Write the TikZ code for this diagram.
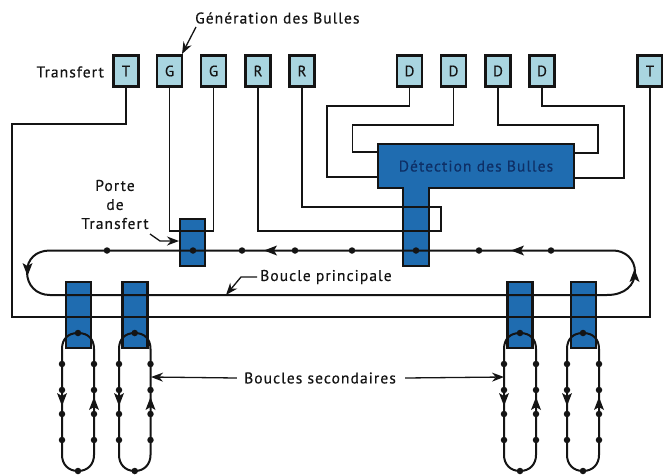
\documentclass[tikz,border=0pt]{standalone}
\usepackage{fontspec}
\setmainfont{PT Sans}
\newfontfamily\spaced[LetterSpace=7,FakeBold=0.4]{PT Sans}
\usetikzlibrary{arrows.meta}
\definecolor{lightb}{HTML}{A9D5E0}
\definecolor{blueb}{HTML}{1F6CB0}
\definecolor{ink}{HTML}{141414}
\definecolor{navy}{HTML}{0E2F66}
\tikzset{
 wire/.style={draw=ink,line width=1.7pt,line join=miter},
 thickw/.style={draw=ink,line width=2pt},
 lead/.style={draw=ink,line width=1.3pt,-{Stealth[length=12pt,width=9pt]}},
 pad/.style={draw=ink,line width=2.6pt,fill=lightb,minimum width=25pt,minimum height=31pt,inner sep=0pt,font=\spaced\fontsize{15}{15}\selectfont,text=ink},
 gate/.style={draw=ink,line width=2.4pt,fill=blueb,inner sep=0pt},
 lab/.style={font=\spaced\fontsize{15.5}{19}\selectfont,text=ink,inner sep=0pt,align=center},
 dot/.style={circle,fill=ink,inner sep=0pt,minimum size=6.5pt},
}
\newcommand{\tipat}[3]{\fill[ink,shift={(#1,#2)},rotate=#3] (6,0) -- (-7,-5) -- (-4,0) -- (-7,5) -- cycle;}
\begin{document}
\begin{tikzpicture}[x=1pt,y=-1pt]
\useasboundingbox[fill=white] (0,0) rectangle (663,474);
% pads
\node[pad] (t1) at (126,71) {T};
\node[pad] (g1) at (169.5,71) {G};
\node[pad] (g2) at (213.5,71) {G};
\node[pad] (r1) at (258,71) {R};
\node[pad] (r2) at (302,71) {R};
\node[pad] (d1) at (409.5,71) {D};
\node[pad] (d2) at (453.5,71) {D};
\node[pad] (d3) at (498,71) {D};
\node[pad] (d4) at (542,71) {D};
\node[pad] (t2) at (650,71) {T};
% blue gates
\node[gate,minimum width=25pt,minimum height=47pt] (pt) at (192.5,242.5) {};
\node[gate,minimum width=25pt,minimum height=66pt] (s1) at (78.5,315) {};
\node[gate,minimum width=25pt,minimum height=66pt] (s2) at (135,315) {};
\node[gate,minimum width=25pt,minimum height=66pt] (s3) at (520,315) {};
\node[gate,minimum width=25pt,minimum height=66pt] (s4) at (583.5,315) {};
\path[gate,line join=miter] (378,144) -- (574,144) -- (574,188) -- (429,188) -- (429,266) -- (403,266) -- (403,188) -- (378,188) -- cycle;
\node[inner sep=0pt,font=\spaced\fontsize{15.5}{17}\selectfont,text=navy] (det) at (476,166) {Détection des Bulles};
% coordinates on the frames
\coordinate (dl1) at (378,177); \coordinate (dl2) at (378,152);
\coordinate (dr1) at (574,178); \coordinate (dr2) at (574,153);
\coordinate (gtip) at (182,54);
\coordinate (ptip) at (179,241);
\coordinate (btip) at (226,295);
\coordinate (sl) at (151,377);
\coordinate (sr) at (504,377);
% connectors
\draw[wire] (t1.south) |- (12,124) |- (650,317) -- (t2.south);
\draw[wire] (g1.south) |- (213.5,231) -- (g2.south);
\draw[wire] (r1.south) |- (441,231) |- (302,207) -- (r2.south);
\draw[wire] (d1.south) |- (327,106) |- (dl1);
\draw[wire] (d2.south) |- (352.5,125) |- (dl2);
\draw[wire] (d3.south) |- (598,125) |- (dr2);
\draw[wire] (d4.south) |- (624,106) |- (dr1);
% main loop
\draw[thickw] (50,295) -- (607,295) .. controls (625,295) and (635,285) .. (635,272) .. controls (635,259) and (625,250.5) .. (613,250.5) -- (50,250.5) .. controls (36,250.5) and (27,259) .. (27,272) .. controls (27,285) and (36,295) .. (50,295);
\tipat{634.5}{275}{90}
\tipat{27.5}{270}{-90}
\tipat{270}{250.5}{180}
\tipat{517}{250.5}{180}
\foreach \i/\x in {1/107,2/193,3/242,4/295,5/352,6/416,7/479,8/551} \node[dot] (m\i) at (\x,250.5) {};
% secondary loops
\foreach \n/\l/\r in {a/62/94,b/119/150.5,c/504/536,d/567/599}{
  \draw[thickw] (\l,455) .. controls (\l,464) and ({\l+6},471) .. ({(\l+\r)/2},471) .. controls ({\r-6},471) and (\r,464) .. (\r,455) -- (\r,349) .. controls (\r,339) and ({\r-6},333) .. ({(\l+\r)/2},333) .. controls ({\l+6},333) and (\l,339) .. (\l,349) -- cycle;
  \tipat{\l}{400}{-90}
  \tipat{\r}{403}{90}
  \node[dot] (top\n) at ({(\l+\r)/2},333) {};
  \node[dot] (bot\n) at ({(\l+\r)/2},471) {};
  \foreach \y in {364,390,414,440}{
    \node[dot] at (\l,\y) {};
    \node[dot] at (\r,\y) {};
  }
}
% labels
\node[lab,anchor=west] (gen) at (195,18) {Génération des Bulles};
\node[lab,anchor=east] (tr) at (104,72) {Transfert};
\node[lab] (porte) at (115,204.5) {Porte\\de\\Transfert};
\node[lab,anchor=west] (bp) at (260,277) {Boucle principale};
\node[lab] (bs) at (320,378) {Boucles secondaires};
% leaders
\draw[lead] (196,27) -- (gtip);
\draw[lead] (150,234) -- (160,241) -- (ptip);
\draw[lead] (bp.west) ++(-3,0) -- (241,277) -- (btip);
\draw[lead] (bs.west) ++(-7,0) -- (sl);
\draw[lead] (bs.east) ++(9,0) -- (sr);
\end{tikzpicture}
\end{document}
